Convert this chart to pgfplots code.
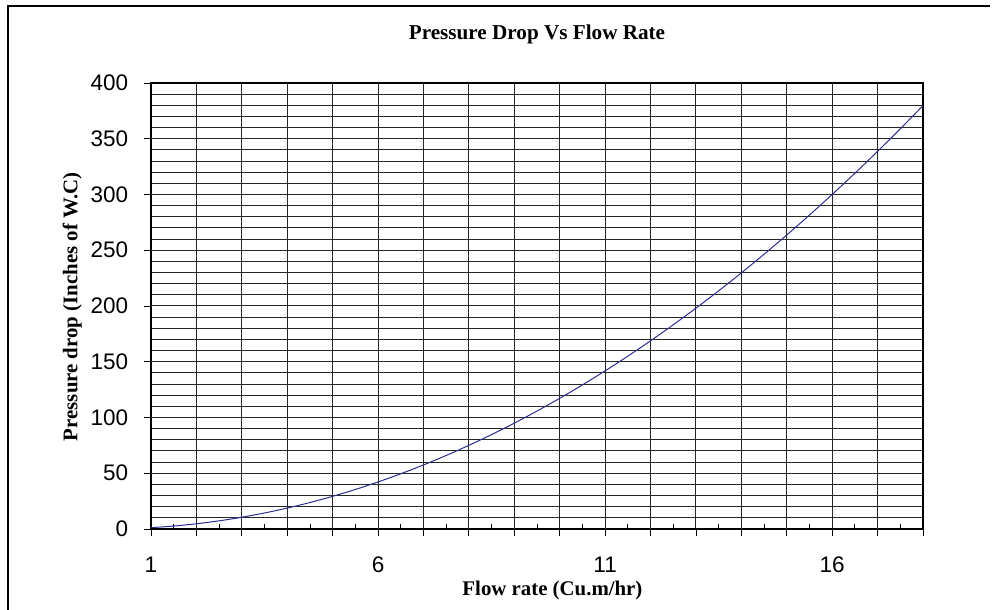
\documentclass[border=0pt]{standalone}
\usepackage{pgfplots}
\pgfplotsset{compat=1.18}
\usepackage{fontspec}
\setmainfont{Liberation Serif}
\newfontfamily\arial{Liberation Sans}
\definecolor{curve}{RGB}{45,45,145}
\begin{document}
\begin{tikzpicture}
\useasboundingbox (0,0) rectangle (600pt,366pt);
\draw[line width=1.5pt] (4.8pt,0) -- (4.8pt,362.4pt) -- (594pt,362.4pt);
\begin{axis}[
  at={(90.6pt,48.6pt)}, anchor=south west,
  scale only axis, width=463.2pt, height=267.6pt,
  xmin=1, xmax=18, ymin=0, ymax=400,
  xtick={1,2,...,18},
  xticklabels={1,,,,,6,,,,,11,,,,,16,,},
  minor xtick={1.5,2.5,...,17.5},
  ytick={0,50,...,400},
  minor ytick={10,20,...,390},
  xmajorgrids, ymajorgrids, yminorgrids,
  major grid style={black!85, line width=0.6pt},
  minor grid style={black!85, line width=0.6pt},
  axis line style={line width=1.6pt},
  tick align=outside,
  major tick length=4.2pt,
  minor tick length=-2.8pt,
  tick style={black, line width=0.5pt},
  minor y tick style={draw=none},
  xtick pos=bottom, ytick pos=left,
  /pgf/number format/assume math mode=true,
  tick label style={font=\arial\fontsize{13.5}{15}\selectfont},
  xticklabel style={anchor=center, yshift=-17pt},
  yticklabel style={anchor=east, xshift=-6pt},
  title={Pressure Drop Vs Flow Rate},
  title style={font=\bfseries\fontsize{12.7}{15}\selectfont, at={(axis description cs:0.5,1.087)}, anchor=center},
  xlabel={Flow rate (Cu.m/hr)},
  xlabel style={font=\bfseries\fontsize{12.5}{15}\selectfont, at={(axis description cs:0.52,-0.137)}, anchor=center},
  ylabel={Pressure drop (Inches of W.C)},
  ylabel style={font=\bfseries\fontsize{12.5}{15}\selectfont, at={(axis description cs:-0.102,0.498)}, anchor=center},
  clip=true,
]
\addplot[color=curve, line width=0.6pt, smooth] coordinates {
(1,1.17) (1.5,2.64) (2,4.69) (2.5,7.33) (3,10.55) (3.5,14.36) (4,18.75)
(4.5,23.73) (5,29.30) (5.5,35.45) (6,42.19) (6.5,49.52) (7,57.43)
(7.5,65.93) (8,75.01) (8.5,84.68) (9,94.93) (9.5,105.77) (10,117.2)
(10.5,129.21) (11,141.81) (11.5,155.0) (12,168.77) (12.5,183.13)
(13,198.07) (13.5,213.6) (14,229.71) (14.5,246.41) (15,263.7)
(15.5,281.57) (16,300.03) (16.5,319.07) (17,338.71) (17.5,358.92)
(18,379.73)
};
\end{axis}
\end{tikzpicture}
\end{document}
